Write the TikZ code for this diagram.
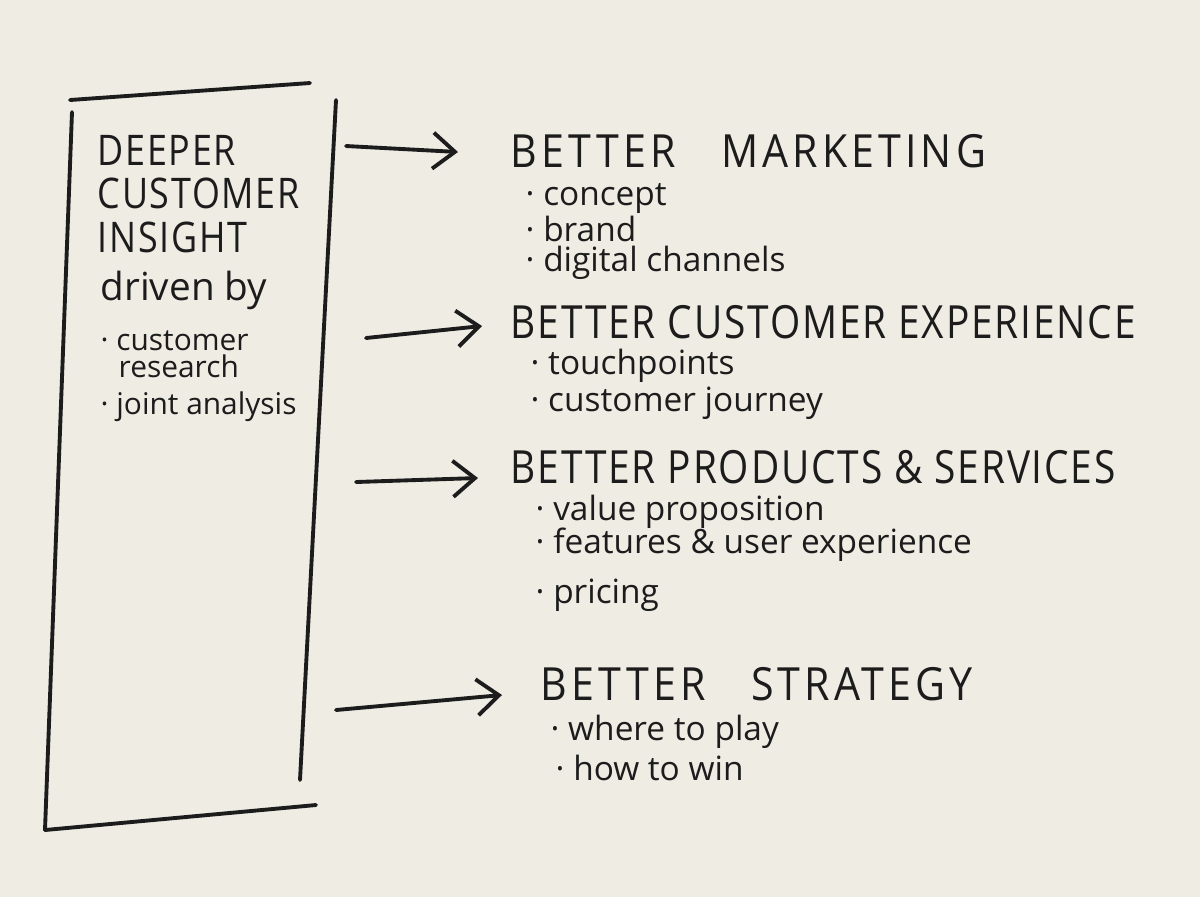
\documentclass[tikz,border=0pt]{standalone}
\usepackage{fontspec}
\setmainfont{Open Sans}
\newfontfamily\capsfont[LetterSpace=4, FakeStretch=0.85]{Open Sans}
\newfontfamily\widecapsfont[LetterSpace=9, FakeStretch=0.9]{Open Sans}
\usepackage{xcolor}
\usepackage{tikz}
\usetikzlibrary{arrows.meta, positioning}

\definecolor{paper}{HTML}{EFECE4}
\definecolor{ink}{HTML}{1C1C1C}
\tikzset{
  pen/.style={draw=ink, line width=1.1pt, line cap=round, line join=round},
  pointer/.style={pen, -{Straight Barb[length=2.2mm, width=3.6mm, line width=1.1pt]}},
  head/.style={anchor=base west, inner sep=0pt, text=ink, font=\capsfont\fontsize{13}{15}\selectfont},
  widehead/.style={head, font=\widecapsfont\fontsize{13}{15}\selectfont},
  note/.style={anchor=base west, inner sep=0pt, text=ink, font=\fontsize{9.5}{11}\selectfont},
}

\begin{document}
\begin{tikzpicture}[x=0.01cm, y=-0.01cm]
			% Paper:
			\useasboundingbox (0, 0) rectangle (1200, 896);
			\fill[paper] (-10, -10) rectangle (1210, 906);
			% Box:
			\coordinate (C1) at (70, 100);
			\coordinate (C2) at (310, 83);
			\coordinate (C3) at (336, 100);
			\coordinate (C4) at (300, 780);
			\coordinate (C5) at (45, 830);
			\coordinate (C6) at (316, 805);
			\coordinate (C7) at (72, 112);
			\draw[pen] (C1) -- (C2);
			\draw[pen] (C7) -- (C5);
			\draw[pen] (C5) -- (C6);
			\draw[pen] (C3) -- (C4);
			% Left column:
			\node[head, font=\capsfont\fontsize{12}{14}\selectfont](N1) at (97, 165){DEEPER};
			\node[head, font=\capsfont\fontsize{12}{14}\selectfont](N2) at (97, 208){CUSTOMER};
			\node[head, font=\capsfont\fontsize{12}{14}\selectfont](N3) at (97, 252){INSIGHT};
			\node[note, font=\fontsize{11}{13}\selectfont](N4) at (100, 300){driven by};
			\node[note, font=\fontsize{8.5}{10}\selectfont](N5) at (100, 350){· customer};
			\node[note, font=\fontsize{8.5}{10}\selectfont](N6) at (118, 377){research};
			\node[note, font=\fontsize{8.5}{10}\selectfont](N7) at (100, 414){· joint analysis};
			% Right column:
			\node[widehead](N8) at (510, 167){BETTER\quad MARKETING};
			\node[note](N9) at (525, 205){· concept};
			\node[note](N10) at (525, 241){· brand};
			\node[note](N11) at (525, 271){· digital channels};
			\node[head](N12) at (510, 338){BETTER CUSTOMER EXPERIENCE};
			\node[note](N13) at (530, 374){· touchpoints};
			\node[note](N14) at (530, 411){· customer journey};
			\node[head](N15) at (510, 483){BETTER PRODUCTS \& SERVICES};
			\node[note](N16) at (535, 520){· value proposition};
			\node[note](N17) at (535, 553){· features \& user experience};
			\node[note](N18) at (535, 603){· pricing};
			\node[widehead](N19) at (540, 700){BETTER\quad STRATEGY};
			\node[note](N20) at (550, 740){· where to play};
			\node[note](N21) at (555, 780){· how to win};
			% Arrows:
			\coordinate (A1) at (346, 146);
			\coordinate (B1) at (458, 152);
			\coordinate (A2) at (366, 338);
			\coordinate (B2) at (482, 326);
			\coordinate (A3) at (356, 482);
			\coordinate (B3) at (478, 478);
			\coordinate (A4) at (336, 710);
			\coordinate (B4) at (502, 695);
			\draw[pointer] (A1) -- (B1);
			\draw[pointer] (A2) -- (B2);
			\draw[pointer] (A3) -- (B3);
			\draw[pointer] (A4) -- (B4);
		\end{tikzpicture}
\end{document}
